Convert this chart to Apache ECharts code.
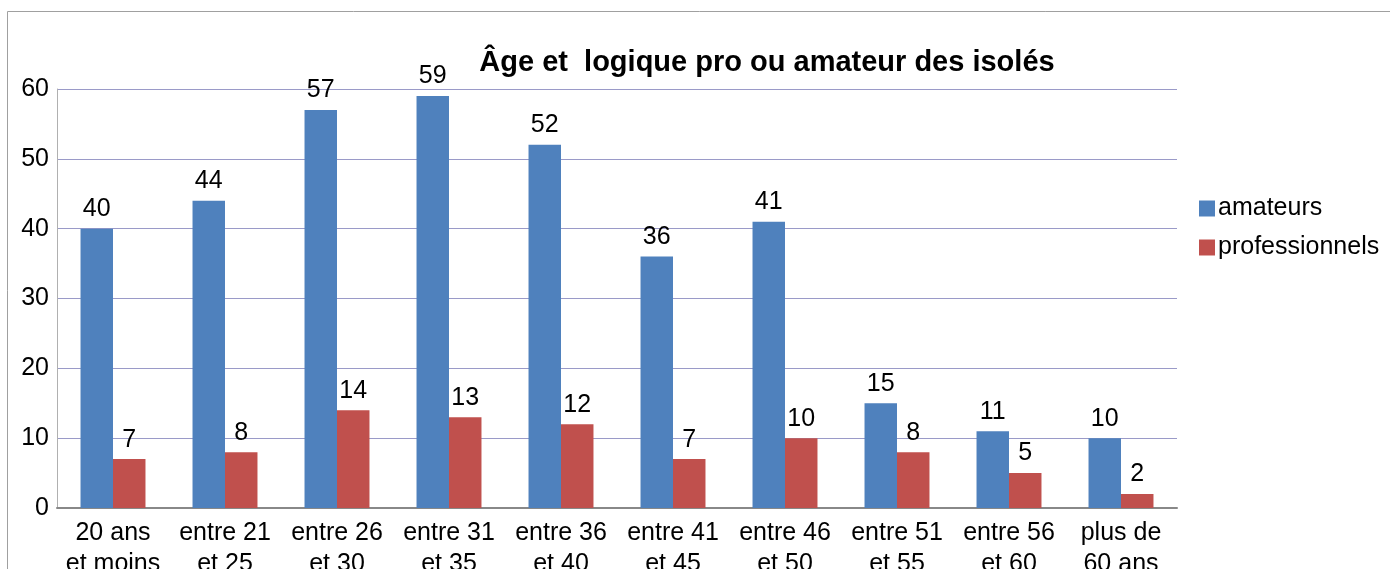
<!DOCTYPE html>
<html><head><meta charset="utf-8">
<script src="https://cdn.jsdelivr.net/npm/echarts@6/dist/echarts.min.js"></script>
<style>html,body{margin:0;padding:0;background:#fff;overflow:hidden;}#c{width:1390px;height:569px;}</style>
</head><body>
<div id="c"></div>
<script>
const categories = ["20 ans\net moins","entre 21\net 25","entre 26\net 30","entre 31\net 35","entre 36\net 40","entre 41\net 45","entre 46\net 50","entre 51\net 55","entre 56\net 60","plus de\n60 ans"];
const amateurs = [40,44,57,59,52,36,41,15,11,10];
const professionnels = [7,8,14,13,12,7,10,8,5,2];
const yTicks = [0,10,20,30,40,50,60];

const chart = echarts.init(document.getElementById('c'));
const font = "'Liberation Sans', Arial, sans-serif";
const lbl = {show:true, position:'top', color:'#000', fontFamily:font, fontSize:25, distance:7};
chart.setOption({
  animation:false,
  graphic:[{type:'polyline', shape:{points:[[7.5,600],[7.5,11.5],[1400,11.5]]}, style:{stroke:'#a0a0a0', lineWidth:1, fill:null}, silent:true}],
  title:{text:'Âge et  logique pro ou amateur des isolés', left:762, top:43, textAlign:'center',
    textStyle:{fontFamily:font, fontSize:29, fontWeight:'bold', color:'#000'}},
  legend:{orient:'vertical', left:1194, top:191, itemWidth:16, itemHeight:16, itemGap:14,
    icon:'rect', textStyle:{fontFamily:font, fontSize:25, color:'#000', padding:[0,0,0,-2]},
    data:['amateurs','professionnels']},
  grid:{left:57, top:89, right:213, bottom:61, containLabel:false, outerBoundsMode:'none'},
  xAxis:{type:'category', data:categories,
    axisLine:{lineStyle:{color:'#888', width:2}}, axisTick:{show:false},
    axisLabel:{fontFamily:font, fontSize:25, color:'#000', lineHeight:31, margin:10, interval:0}},
  yAxis:{type:'value', min:0, max:60, interval:10,
    axisLine:{show:true, lineStyle:{color:'#b0b0b0', width:1}}, axisTick:{show:false},
    axisLabel:{fontFamily:font, fontSize:25, color:'#000', margin:8, formatter:v=>yTicks.includes(v)?String(v):''},
    splitLine:{lineStyle:{color:'#9a9ac8', width:1}}},
  series:[
    {name:'amateurs', type:'bar', data:amateurs, itemStyle:{color:'#4f81bd'}, barGap:'0%', barCategoryGap:'42%', label:lbl},
    {name:'professionnels', type:'bar', data:professionnels, itemStyle:{color:'#c0504d'}, label:lbl}
  ]
});
</script>
</body></html>
